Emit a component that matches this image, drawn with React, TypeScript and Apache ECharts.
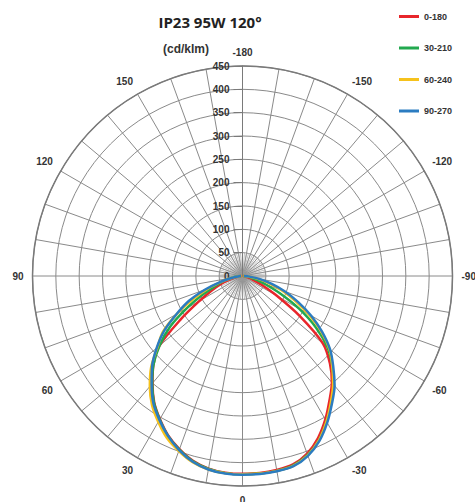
import React, { useEffect, useRef } from "react";
import * as echarts from "echarts";

// angles in degrees (0 = down, positive = left side, negative = right side)
const angles = [-90, -85, -80, -75, -70, -65, -60, -55, -50, -45, -40, -35, -30, -25, -20, -15, -10, -5, 0,
  5, 10, 15, 20, 25, 30, 35, 40, 45, 50, 55, 60, 65, 70, 75, 80, 85, 90];

const seriesNames = ["0-180", "30-210", "60-240", "90-270"];
const seriesColors = ["#e8262b", "#22a94f", "#f6c21c", "#2b7cc1"];

// intensities (cd/klm) at each angle above
const red0_180 = [1, 3, 6, 12, 24, 46, 85, 150, 225, 265, 298, 325, 355, 383, 405, 418, 422, 424, 424,
  423, 419, 410, 395, 377, 354, 330, 300, 270, 232, 161, 106, 72, 48, 28, 14, 6, 2];
const green30_210 = [2, 8, 18, 32, 53, 90, 140, 192, 238, 272, 304, 332, 360, 388, 408, 420, 424, 425, 425,
  424, 420, 411, 396, 378, 355, 331, 301, 270, 232, 189, 137, 94, 62, 44, 26, 12, 3];
const yellow60_240 = [2, 12, 32, 58, 90, 124, 163, 205, 243, 272, 302, 330, 360, 388, 409, 421, 424, 425, 425,
  424, 421, 413, 399, 383, 361, 338, 309, 277, 238, 208, 162, 116, 78, 45, 22, 9, 2];
const blue90_270 = [3, 15, 38, 65, 96, 131, 170, 208, 245, 275, 307, 334, 363, 390, 410, 422, 425, 426, 426,
  425, 421, 412, 397, 378, 356, 333, 303, 274, 240, 205, 163, 127, 86, 50, 24, 10, 3];

const radiusTicks = [0, 450, 50];
const titleText = "IP23 95W 120°";
const unitText = "(cd/klm)";

export default function App() {
  const ref = useRef<HTMLDivElement>(null);
  useEffect(() => {
    if (!ref.current) return;
    const chart = echarts.init(ref.current, undefined, { renderer: "svg" });
    const allData = [red0_180, green30_210, yellow60_240, blue90_270];
    const center = [242.5, 276];
    const R = 210;
    const font = "Liberation Sans, Arial, sans-serif";
    chart.setOption({
      animation: false,
      backgroundColor: "#ffffff",
      legend: {
        orient: "vertical",
        left: 399,
        top: 12,
        padding: 0,
        itemWidth: 20,
        itemHeight: 3,
        itemGap: 22.5,
        icon: "rect",
        textStyle: { fontSize: 9, fontWeight: "bold", color: "#333", fontFamily: font },
        data: seriesNames,
      },
      polar: [
        { center, radius: R },
        { center, radius: (R * 50) / 450 },
      ],
      angleAxis: [
        {
          polarIndex: 0,
          type: "value",
          min: -180,
          max: 180,
          interval: 10,
          startAngle: 90,
          clockwise: true,
          axisLine: { show: true, lineStyle: { color: "#7a7a7a", width: 1.5 } },
          axisTick: { show: false },
          axisLabel: {
            show: true,
            margin: 9,
            fontSize: 10,
            fontWeight: "bold",
            color: "#333",
            fontFamily: font,
            formatter: (v: number) => (v % 30 === 0 ? String(v) : ""),
          },
          splitLine: { show: true, lineStyle: { color: "#8a8a8a", width: 1 } },
        },
        {
          polarIndex: 1,
          type: "value",
          min: -180,
          max: 180,
          interval: 5,
          startAngle: 90,
          clockwise: true,
          axisLine: { show: false },
          axisTick: { show: false },
          axisLabel: { show: false },
          splitLine: { show: true, lineStyle: { color: "#999999", width: 0.6 } },
        },
      ],
      radiusAxis: [
        {
          polarIndex: 0,
          type: "value",
          min: radiusTicks[0],
          max: radiusTicks[1],
          interval: radiusTicks[2],
          axisLine: { show: true, lineStyle: { color: "#7a7a7a", width: 1 } },
          axisTick: { show: true, length: 9, lineStyle: { color: "#7a7a7a" } },
          axisLabel: {
            show: true,
            margin: 13,
            fontSize: 10,
            fontWeight: "bold",
            color: "#333",
            fontFamily: font,
          },
          splitLine: { show: true, lineStyle: { color: "#8a8a8a", width: 1 } },
        },
        {
          polarIndex: 1,
          type: "value",
          min: 0,
          max: 50,
          axisLine: { show: false },
          axisTick: { show: false },
          axisLabel: { show: false },
          splitLine: { show: false },
        },
      ],
      graphic: [
        {
          type: "text",
          x: 210,
          y: 22,
          style: {
            text: titleText,
            fontSize: 15,
            fontWeight: "bold",
            fontFamily: "Open Sans, sans-serif",
            fill: "#222",
            textAlign: "center",
            textVerticalAlign: "middle",
          },
        },
        {
          type: "text",
          x: 186,
          y: 49,
          style: {
            text: unitText,
            fontSize: 12,
            fontWeight: "bold",
            fontFamily: font,
            fill: "#333",
            textAlign: "center",
            textVerticalAlign: "middle",
          },
        },
      ],
      series: seriesNames.map((name, i) => ({
        name,
        type: "line",
        coordinateSystem: "polar",
        polarIndex: 0,
        symbol: "none",
        smooth: 0.3,
        color: seriesColors[i],
        lineStyle: { color: seriesColors[i], width: 2.5 },
        z: 3 + i,
        data: angles.map((a, k) => [allData[i][k], a]),
      })),
    });
    return () => chart.dispose();
  }, []);
  return (
    <div
      ref={ref}
      style={{ position: "fixed", left: 0, top: 0, width: 475, height: 502 }}
    />
  );
}
